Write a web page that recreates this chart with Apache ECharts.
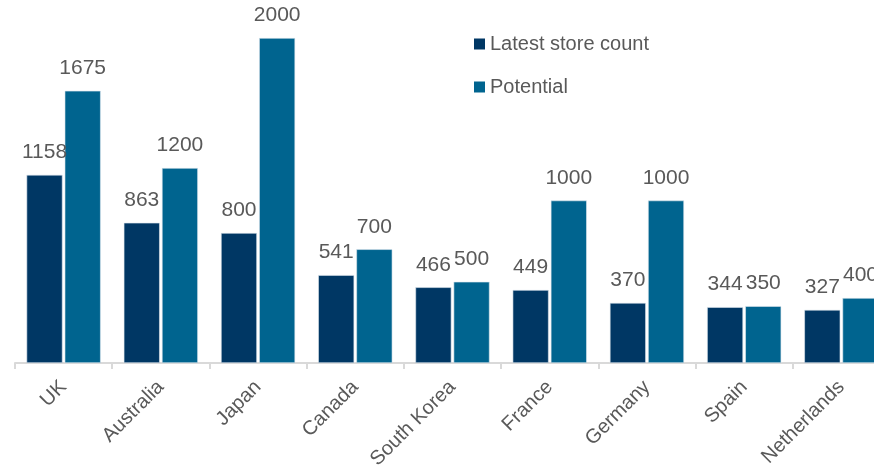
<!DOCTYPE html>
<html>
<head>
<meta charset="utf-8">
<script src="https://cdn.jsdelivr.net/npm/echarts@6/dist/echarts.min.js"></script>
<style>
  html, body { margin: 0; padding: 0; background: #fff; }
  #chart { width: 874px; height: 471px; }
</style>
</head>
<body>
<div id="chart"></div>
<script>
// Store counts by market
const countries = ['UK', 'Australia', 'Japan', 'Canada', 'South Korea', 'France', 'Germany', 'Spain', 'Netherlands'];
const latestStoreCount = [1158, 863, 800, 541, 466, 449, 370, 344, 327];
const potential = [1675, 1200, 2000, 700, 500, 1000, 1000, 350, 400];

const textGray = '#595959';
const font = '"Liberation Sans", Arial, sans-serif';

const chart = echarts.init(document.getElementById('chart'));

const labelStyle = {
  show: true,
  position: 'top',
  distance: 12,
  color: textGray,
  fontFamily: font,
  fontSize: 21
};

chart.setOption({
  animation: false,
  legend: {
    orient: 'vertical',
    left: 469,
    top: 29,
    itemWidth: 11,
    itemHeight: 11,
    itemGap: 23,
    icon: 'rect',
    itemStyle: { borderWidth: 0 },
    textStyle: { color: textGray, fontFamily: font, fontSize: 20 }
  },
  grid: { left: 15, top: 38, width: 875, height: 325, containLabel: false, outerBoundsMode: 'none' },
  xAxis: {
    type: 'category',
    data: countries,
    axisLine: { lineStyle: { color: '#d9d9d9', width: 2 } },
    axisTick: { show: true, length: 6, lineStyle: { color: '#d9d9d9', width: 2 } },
    axisLabel: {
      rotate: 45,
      interval: 0,
      margin: 21,
      color: textGray,
      fontFamily: font,
      fontSize: 20
    }
  },
  yAxis: {
    type: 'value',
    min: 0,
    max: 2000,
    show: false,
    splitLine: { show: false }
  },
  series: [
    {
      name: 'Latest store count',
      type: 'bar',
      data: latestStoreCount,
      barWidth: 36,
      barGap: '6%',
      itemStyle: { color: '#003764', borderColor: '#dfe8ef', borderWidth: 0.6 },
      label: labelStyle
    },
    {
      name: 'Potential',
      type: 'bar',
      data: potential,
      barWidth: 36,
      itemStyle: { color: '#00648f', borderColor: '#dfe8ef', borderWidth: 0.6 },
      label: labelStyle
    }
  ]
});
</script>
</body>
</html>
